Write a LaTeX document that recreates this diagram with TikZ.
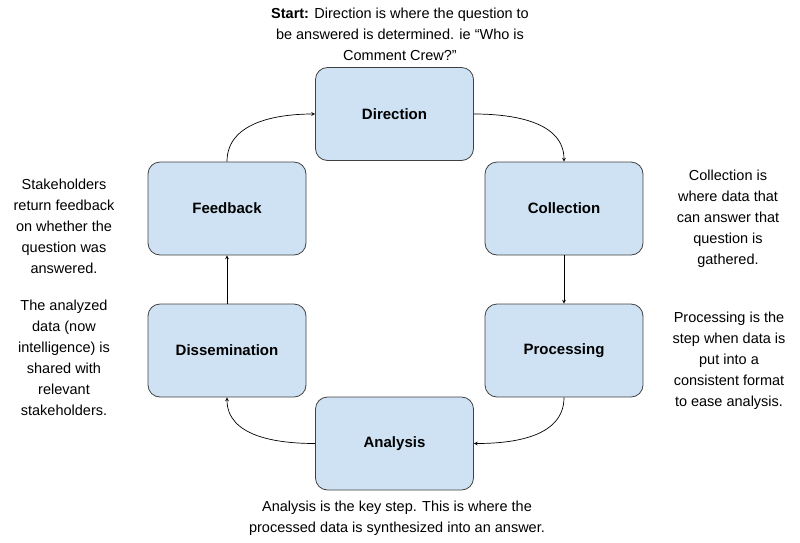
\documentclass[tikz,border=0pt]{standalone}
\usepackage{fontspec}
\setmainfont{Liberation Sans}
\begin{document}
\begin{tikzpicture}[x=1pt,y=-1pt,
 box/.style={draw=black!75,fill={rgb,255:red,207;green,226;blue,243},rounded corners=12pt,minimum width=158pt,minimum height=93pt,line width=0.8pt,font=\fontsize{15}{18}\selectfont\bfseries},
 txt/.style={align=center,font=\fontsize{14.5}{21}\selectfont},
 arr/.style={->,>=stealth,line width=0.7pt}]
\useasboundingbox (0,0) rectangle (800,542);
\node[box] (dir) at (394.5,114) {Direction};
\node[box] (col) at (564,208.5) {Collection};
\node[box] (pro) at (564,350.5) {Processing};
\node[box] (ana) at (394.5,443.5) {Analysis};
\node[box] (dis) at (227,350.5) {Dissemination};
\node[box] (fee) at (227,208.5) {Feedback};
\draw[arr] (dir.east) to[out=0,in=90] (col.north);
\draw[arr] (col.south) -- (pro.north);
\draw[arr] (pro.south) to[out=-90,in=0] (ana.east);
\draw[arr] (ana.west) to[out=180,in=-90] (dis.south);
\draw[arr] (dis.north) -- (fee.south);
\draw[arr] (fee.north) to[out=90,in=180] (dir.west);
\node[txt] (t1) at (400,34) {\textbf{Start:} Direction is where the question to\\be answered is determined. ie “Who is\\Comment Crew?”};
\node[txt] (t2) at (728,219) {Collection is\\where data that\\can answer that\\question is\\gathered.};
\node[txt] (t3) at (729,361) {Processing is the\\step when data is\\put into a\\consistent format\\to ease analysis.};
\node[txt] (t4) at (397,518) {Analysis is the key step. This is where the\\processed data is synthesized into an answer.};
\node[txt] (t5) at (64,358) {The analyzed\\data (now\\intelligence) is\\shared with\\relevant\\stakeholders.};
\node[txt] (t6) at (64,226) {Stakeholders\\return feedback\\on whether the\\question was\\answered.};
\end{tikzpicture}
\end{document}
